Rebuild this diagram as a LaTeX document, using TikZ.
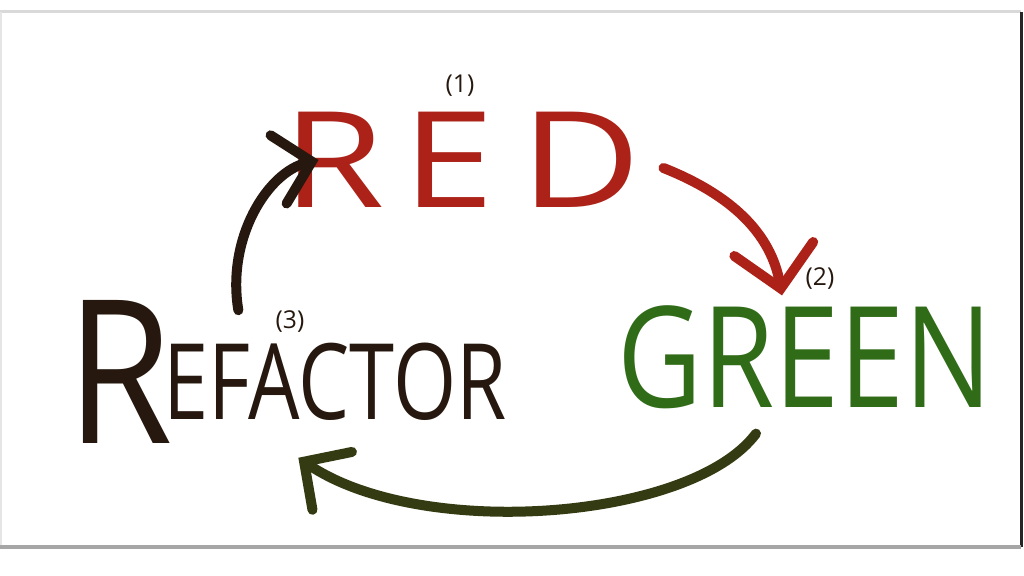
\documentclass[tikz,border=0pt]{standalone}
\usepackage{fontspec}
\setmainfont{Open Sans}
\usetikzlibrary{positioning, arrows.meta, calc}

\definecolor{redink}{RGB}{172,34,24}
\definecolor{greenink}{RGB}{48,108,24}
\definecolor{blackink}{RGB}{38,24,14}
\definecolor{oliveink}{RGB}{52,58,18}

\begin{document}
\begin{tikzpicture}[
    x=0.01cm, y=-0.01cm,
    >={Straight Barb[length=3.4mm, width=7mm, line cap=round]},
    word/.style={inner sep=0pt, outer sep=0pt},
    stepnum/.style={inner sep=0pt, font=\fontsize{7}{8}\selectfont, text=blackink},
    inkarrow/.style={->, line width=1mm, line cap=round},
    bigtip/.style={-{Straight Barb[length=4mm, width=8mm, line cap=round]}}
]

% fixed page size of the reference
\useasboundingbox (0,0) rectangle (1024,576);

% photo frame
\draw[gray!30, line width=0.3mm] (0,12) -- (1021,12);
\draw[gray!20, line width=0.3mm] (0,12) -- (0,547);
\draw[black!85, line width=0.3mm] (1021,12) -- (1021,547);
\draw[gray!70, line width=0.4mm] (0,547) -- (1021,547);

% the three words
\node[word, text=redink, font=\fontsize{38}{40}\selectfont, xscale=1.24] (red) at (462,160) {R\hspace{4pt}E\hspace{6pt}D};
\node[word, text=greenink, font=\fontsize{40}{42}\selectfont, xscale=0.83] (green) at (805,357) {GREEN};
\node[word, text=blackink, font=\fontsize{57}{60}\selectfont, xscale=0.86] (refacR) at (120,372) {R};
\node[word, text=blackink, font=\fontsize{30}{32}\selectfont, xscale=0.77] (refac) at (335,382) {EFACTOR};

% step numbers
\node[stepnum] (one) at (460,86) {(1)};
\node[stepnum] (two) at (820,279) {(2)};
\node[stepnum] (three) at (290,322) {(3)};

% cycle arrows
\draw[inkarrow, bigtip, redink] ($(red.east)+(22,8)$) .. controls ($(red.east)+(90,35)$) and ($(green.north)+(-34,-72)$) .. ($(green.north)+(-23,-10)$);
\draw[inkarrow, oliveink] ($(green.south)+(-49,25)$) .. controls ($(green.south)+(-114,112)$) and ($(refac.south)+(85,120)$) .. ($(refac.south west)+(135,37)$);
\draw[inkarrow, blackink] ($(refac.north west)+(75,-33)$) .. controls ($(refac.north west)+(63,-105)$) and ($(red.west)+(-15,12)$) .. ($(red.west)+(36,0)$);

\end{tikzpicture}
\end{document}
